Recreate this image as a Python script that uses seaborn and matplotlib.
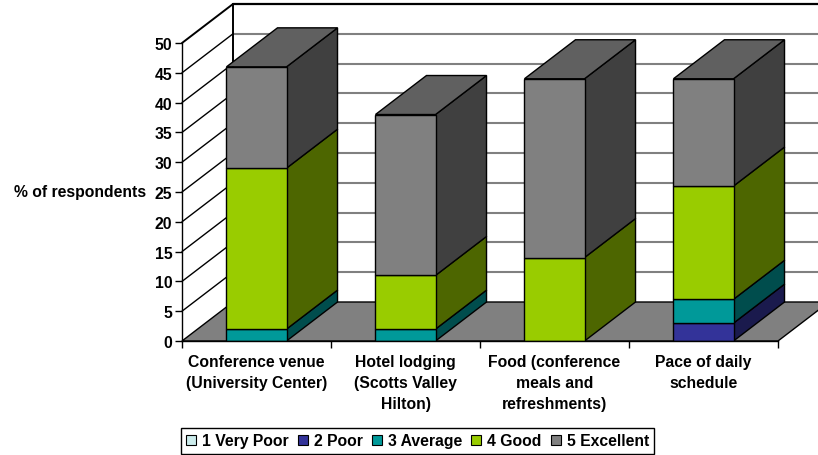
import matplotlib
matplotlib.use('Agg')
import matplotlib.pyplot as plt
from matplotlib.patches import Patch, Polygon
import numpy as np
import seaborn as sns

categories = ['Conference venue\n(University Center)',
              'Hotel lodging\n(Scotts Valley\nHilton)',
              'Food (conference\nmeals and\nrefreshments)',
              'Pace of daily\nschedule']
series_names = ['1 Very Poor', '2 Poor', '3 Average', '4 Good', '5 Excellent']
very_poor = [0, 0, 0, 0]
poor = [0, 0, 0, 3]
average = [2, 2, 0, 4]
good = [27, 9, 14, 19]
excellent = [17, 27, 30, 18]
y_ticks = [0, 5, 10, 15, 20, 25, 30, 35, 40, 45, 50]

front_colors = ['#CCECEC', '#333399', '#009999', '#99CC00', '#808080']
side_colors = ['#667676', '#1A1A4D', '#004D4D', '#4D6600', '#404040']
top_colors = ['#99B1B1', '#26264D', '#007373', '#739900', '#606060']

sns.set_style('white')
plt.rcParams['font.family'] = ['Liberation Sans', 'DejaVu Sans']
plt.rcParams['font.weight'] = 'bold'
plt.rcParams['font.size'] = 11.3

fig = plt.figure(figsize=(8.18, 4.56), dpi=100)
ax = fig.add_axes([182 / 818, (456 - 342) / 456, 596 / 818, 298 / 456])
ax.patch.set_visible(False)

# depth of the fake 3d box, in data units
dx = 51 / 149
dy = 39 / 5.96

# floor and walls
ax.add_patch(Polygon([(-0.5, 0), (-0.5 + dx, dy), (3.5 + dx, dy), (3.5, 0)], closed=True,
                     facecolor='#808080', edgecolor='black', lw=1, clip_on=False, zorder=1))
for t in y_ticks[1:]:
    top = t == y_ticks[-1]
    ax.plot([-0.5 + dx, 3.5 + dx], [t + dy, t + dy], color='black' if top else '#808080',
            lw=1.6 if top else 1.5, clip_on=False, zorder=1)
    ax.plot([-0.5, -0.5 + dx], [t, t + dy], color='black', lw=1.4 if top else 1, clip_on=False, zorder=1)
ax.plot([-0.5 + dx, -0.5 + dx], [dy, y_ticks[-1] + dy], color='black', lw=1.4, clip_on=False, zorder=1)

# stacked front faces
stacks = [very_poor, poor, average, good, excellent]
bottom = np.zeros(len(categories))
for i, vals in enumerate(stacks):
    sns.barplot(x=categories, y=vals, bottom=bottom, color=front_colors[i], saturation=1,
                width=0.403, edgecolor='black', linewidth=1, ax=ax, zorder=3)
    for j, v in enumerate(vals):
        if v == 0:
            continue
        l, r = j - 0.2015, j + 0.2015
        b, t = bottom[j], bottom[j] + v
        ax.add_patch(Polygon([(r, b), (r + dx, b + dy), (r + dx, t + dy), (r, t)], closed=True,
                             facecolor=side_colors[i], edgecolor='black', lw=1, zorder=2, clip_on=False))
        if t == sum(s[j] for s in stacks):
            ax.add_patch(Polygon([(l, t), (l + dx, t + dy), (r + dx, t + dy), (r, t)], closed=True,
                                 facecolor=top_colors[i], edgecolor='black', lw=1, zorder=2, clip_on=False))
    bottom = bottom + np.array(vals)

ax.set_xlim(-0.5, 3.5)
ax.set_ylim(0, 50)
ax.set_yticks(y_ticks)
ax.set_xticks(range(len(categories)))
ax.set_xticklabels(categories, linespacing=1.5)
ax.set_xticks(np.arange(-0.5, 4), minor=True)
ax.tick_params(axis='x', which='major', bottom=False, pad=6, labelcolor='black')
ax.tick_params(axis='x', which='minor', bottom=True, length=5, width=1, color='black')
ax.tick_params(axis='y', left=True, length=5, width=1, color='black', pad=2, labelsize=11.3, labelcolor='black')
ax.set_ylabel('')

for s in ['top', 'right']:
    ax.spines[s].set_visible(False)
for s in ['left', 'bottom']:
    ax.spines[s].set_color('black')
    ax.spines[s].set_linewidth(1)
    ax.spines[s].set_zorder(4)

fig.text(146 / 818, 1 - 193 / 456, '% of respondents', ha='right', va='center', color='black')

handles = [Patch(facecolor=c, edgecolor='black', lw=0.8, label=n) for c, n in zip(front_colors, series_names)]
leg = fig.legend(handles=handles, ncol=5, loc='center', bbox_to_anchor=(417.5 / 818, 1 - 442 / 456),
                 frameon=True, fancybox=False, edgecolor='black', framealpha=1, handlelength=0.65,
                 handleheight=0.65, handletextpad=0.38, columnspacing=0.57, borderpad=0.32,
                 borderaxespad=0, labelcolor='black')
leg.get_frame().set_linewidth(1)

fig.savefig('out.png', dpi=100)
